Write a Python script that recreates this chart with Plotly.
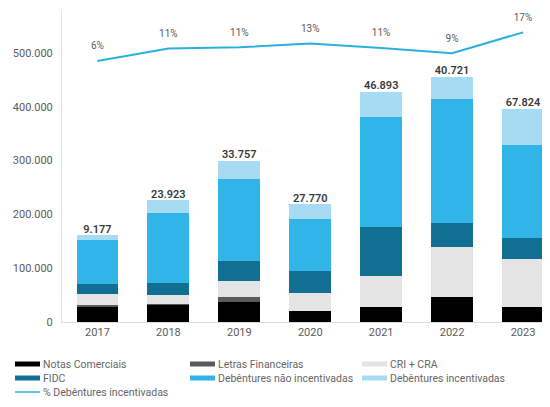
import plotly.graph_objects as go

anos = ["2017", "2018", "2019", "2020", "2021", "2022", "2023"]

notas_comerciais = [29500, 32000, 36500, 21000, 27500, 47000, 27500]
letras_financeiras = [1500, 2000, 9500, 0, 0, 0, 0]
cri_cra = [21500, 15600, 30500, 32000, 58000, 92000, 90500]
fidc = [17500, 23400, 36500, 42000, 90500, 44500, 39000]
deb_nao_incentivadas = [82000, 129000, 153000, 96000, 205600, 231500, 172000]
deb_incentivadas = [9177, 23923, 33757, 27770, 46893, 40721, 67824]
pct_incentivadas = [5.8, 10.7, 11.2, 12.7, 10.9, 8.9, 17.1]

series = [
    ("Notas Comerciais", notas_comerciais, "#000000"),
    ("Letras Financeiras", letras_financeiras, "#5a5a5a"),
    ("CRI + CRA", cri_cra, "#e4e4e4"),
    ("FIDC", fidc, "#106f93"),
    ("Debêntures não incentivadas", deb_nao_incentivadas, "#31b5e9"),
    ("Debêntures incentivadas", deb_incentivadas, "#a7dbf3"),
]
line_name = "% Debêntures incentivadas"
line_color = "#2bb0de"
grey_txt = "#5c5c5c"

# page has an 8px body margin, so the figure is 8px smaller and offset
OFF = 8
W, H = 550 - OFF, 407 - OFF
ML, MR, MT, MB = 62 - OFF, 5, 10 - OFF, 85
PW, PH = W - ML - MR, H - MT - MB


def fmt_br(v):
    return f"{v:,.0f}".replace(",", ".")


def px_x(px):
    return (px - OFF - ML) / PW


def px_y(py):
    return (H - MB - (py - OFF)) / PH


fig = go.Figure()

for name, vals, color in series:
    fig.add_trace(go.Bar(
        x=anos, y=vals,
        name=name,
        marker=dict(color=color, line=dict(width=0)),
        showlegend=False,
    ))

# value of the incentivised debentures written above each stack
totals = [sum(v[i] for _, v, _ in series) for i in range(len(anos))]
fig.add_trace(go.Scatter(
    x=anos, y=totals,
    mode="text",
    text=[fmt_br(v) for v in deb_incentivadas],
    textposition="top center",
    textfont=dict(size=11, color="#3a3a3a", family="Roboto", weight=600),
    cliponaxis=False,
    hoverinfo="skip",
    showlegend=False,
))

fig.add_trace(go.Scatter(
    x=anos, y=pct_incentivadas,
    mode="lines+markers+text",
    text=[f"{v:.0f}%" for v in pct_incentivadas],
    textposition="top center",
    textfont=dict(size=10, color=grey_txt),
    marker=dict(size=13, opacity=0),
    line=dict(color=line_color, width=2),
    yaxis="y2",
    cliponaxis=False,
    name=line_name,
    showlegend=False,
))

# legend laid out as in the original: three columns, short strokes
legend_items = [(n, c, 5) for n, _, c in series] + [(line_name, line_color, 1.5)]
col_x = [15, 190, 362]
row_y = [364, 378, 392]
for k, (name, color, thick) in enumerate(legend_items):
    x0 = col_x[k % 3]
    yc = row_y[k // 3]
    fig.add_shape(
        type="rect", xref="paper", yref="paper",
        x0=px_x(x0), x1=px_x(x0 + 25),
        y0=px_y(yc + thick / 2), y1=px_y(yc - thick / 2),
        fillcolor=color, line=dict(width=0),
    )
    fig.add_annotation(
        x=px_x(x0 + 26), y=px_y(yc), xref="paper", yref="paper",
        text=name, showarrow=False, xanchor="left", yanchor="middle",
        font=dict(size=10.5, color="#666666"),
    )

fig.update_layout(
    width=W, height=H,
    barmode="stack",
    bargap=0.41,
    separators=",.",
    font=dict(family="Roboto", size=11, color=grey_txt),
    plot_bgcolor="white",
    paper_bgcolor="white",
    showlegend=False,
    margin=dict(l=ML, r=MR, t=MT, b=MB, autoexpand=False),
    xaxis=dict(
        range=[-0.5, 6.31],
        showline=True, linecolor="#dcdcdc", linewidth=1,
        showgrid=False, ticks="",
        tickfont=dict(size=11, color=grey_txt),
    ),
    yaxis=dict(
        range=[0, 580000],
        tickvals=[0, 100000, 200000, 300000, 400000, 500000],
        tickformat=",d",
        showline=True, linecolor="#e4e4e4", linewidth=1,
        showgrid=False, zeroline=False, ticks="",
        ticklabelstandoff=6,
        tickfont=dict(size=11, color=grey_txt),
    ),
    yaxis2=dict(
        overlaying="y", side="right",
        range=[-97.0, 25.9],
        visible=False,
    ),
)

fig.write_html("out.html")
